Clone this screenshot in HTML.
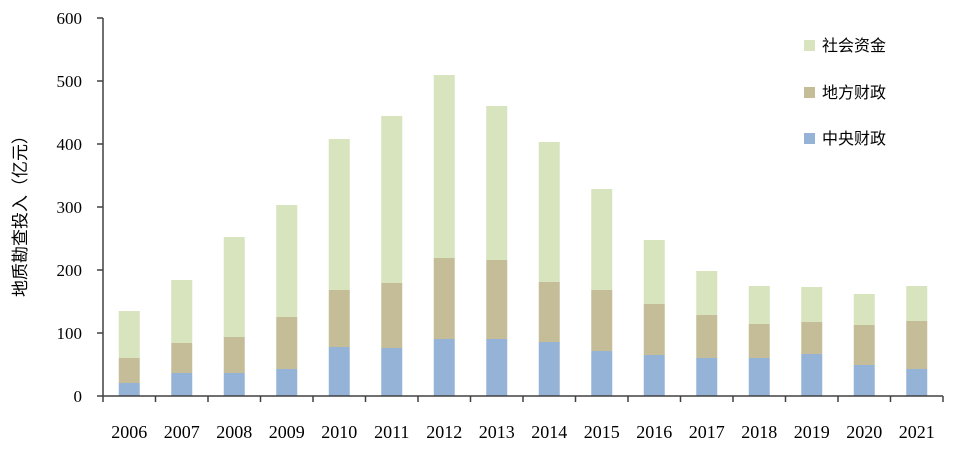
<!DOCTYPE html><html><head><meta charset="utf-8"><style>body{margin:0;background:#fff}</style></head><body>
<svg width="955" height="455" xmlns="http://www.w3.org/2000/svg" font-family="'Liberation Serif','Noto Serif CJK SC',serif">
<rect width="955" height="455" fill="#fff"/>
<g fill="#d7e4bd">
<rect x="118.75" y="311" width="21" height="47"/>
<rect x="171.25" y="280" width="21" height="63"/>
<rect x="223.75" y="237" width="21" height="100"/>
<rect x="276.25" y="205" width="21" height="112"/>
<rect x="328.75" y="139" width="21" height="151"/>
<rect x="381.25" y="116" width="21" height="167"/>
<rect x="433.75" y="75" width="21" height="183"/>
<rect x="486.25" y="106" width="21" height="154"/>
<rect x="538.75" y="142" width="21" height="140"/>
<rect x="591.25" y="189" width="21" height="101"/>
<rect x="643.75" y="240" width="21" height="64"/>
<rect x="696.25" y="271" width="21" height="44"/>
<rect x="748.75" y="286" width="21" height="38"/>
<rect x="801.25" y="287" width="21" height="35"/>
<rect x="853.75" y="294" width="21" height="31"/>
<rect x="906.25" y="286" width="21" height="35"/>
</g>
<g fill="#c4bd97">
<rect x="118.75" y="358" width="21" height="25"/>
<rect x="171.25" y="343" width="21" height="30"/>
<rect x="223.75" y="337" width="21" height="36"/>
<rect x="276.25" y="317" width="21" height="52"/>
<rect x="328.75" y="290" width="21" height="57"/>
<rect x="381.25" y="283" width="21" height="65"/>
<rect x="433.75" y="258" width="21" height="81"/>
<rect x="486.25" y="260" width="21" height="79"/>
<rect x="538.75" y="282" width="21" height="60"/>
<rect x="591.25" y="290" width="21" height="61"/>
<rect x="643.75" y="304" width="21" height="51"/>
<rect x="696.25" y="315" width="21" height="43"/>
<rect x="748.75" y="324" width="21" height="34"/>
<rect x="801.25" y="322" width="21" height="32"/>
<rect x="853.75" y="325" width="21" height="40"/>
<rect x="906.25" y="321" width="21" height="48"/>
</g>
<g fill="#95b3d7">
<rect x="118.75" y="383" width="21" height="13"/>
<rect x="171.25" y="373" width="21" height="23"/>
<rect x="223.75" y="373" width="21" height="23"/>
<rect x="276.25" y="369" width="21" height="27"/>
<rect x="328.75" y="347" width="21" height="49"/>
<rect x="381.25" y="348" width="21" height="48"/>
<rect x="433.75" y="339" width="21" height="57"/>
<rect x="486.25" y="339" width="21" height="57"/>
<rect x="538.75" y="342" width="21" height="54"/>
<rect x="591.25" y="351" width="21" height="45"/>
<rect x="643.75" y="355" width="21" height="41"/>
<rect x="696.25" y="358" width="21" height="38"/>
<rect x="748.75" y="358" width="21" height="38"/>
<rect x="801.25" y="354" width="21" height="42"/>
<rect x="853.75" y="365" width="21" height="31"/>
<rect x="906.25" y="369" width="21" height="27"/>
</g>
<g stroke="#404040" stroke-width="1.5">
<line x1="103" y1="18" x2="103" y2="396"/>
<line x1="103" y1="396" x2="943" y2="396"/>
<line x1="97" y1="18" x2="103" y2="18"/><line x1="97" y1="81" x2="103" y2="81"/><line x1="97" y1="144" x2="103" y2="144"/><line x1="97" y1="207" x2="103" y2="207"/><line x1="97" y1="270" x2="103" y2="270"/><line x1="97" y1="333" x2="103" y2="333"/><line x1="97" y1="396" x2="103" y2="396"/>
<line x1="103" y1="396" x2="103" y2="402"/><line x1="155.5" y1="396" x2="155.5" y2="402"/><line x1="208" y1="396" x2="208" y2="402"/><line x1="260.5" y1="396" x2="260.5" y2="402"/><line x1="313" y1="396" x2="313" y2="402"/><line x1="365.5" y1="396" x2="365.5" y2="402"/><line x1="418" y1="396" x2="418" y2="402"/><line x1="470.5" y1="396" x2="470.5" y2="402"/><line x1="523" y1="396" x2="523" y2="402"/><line x1="575.5" y1="396" x2="575.5" y2="402"/><line x1="628" y1="396" x2="628" y2="402"/><line x1="680.5" y1="396" x2="680.5" y2="402"/><line x1="733" y1="396" x2="733" y2="402"/><line x1="785.5" y1="396" x2="785.5" y2="402"/><line x1="838" y1="396" x2="838" y2="402"/><line x1="890.5" y1="396" x2="890.5" y2="402"/><line x1="943" y1="396" x2="943" y2="402"/>
</g>
<g font-size="17" text-anchor="end" fill="#000">
<text x="82" y="24">600</text><text x="82" y="87">500</text><text x="82" y="150">400</text><text x="82" y="213">300</text><text x="82" y="276">200</text><text x="82" y="339">100</text><text x="82" y="402">0</text>
</g>
<g font-size="18" text-anchor="middle" fill="#000">
<text x="129.25" y="438">2006</text><text x="181.75" y="438">2007</text><text x="234.25" y="438">2008</text><text x="286.75" y="438">2009</text><text x="339.25" y="438">2010</text><text x="391.75" y="438">2011</text><text x="444.25" y="438">2012</text><text x="496.75" y="438">2013</text><text x="549.25" y="438">2014</text><text x="601.75" y="438">2015</text><text x="654.25" y="438">2016</text><text x="706.75" y="438">2017</text><text x="759.25" y="438">2018</text><text x="811.75" y="438">2019</text><text x="864.25" y="438">2020</text><text x="916.75" y="438">2021</text>
</g>
<text transform="translate(26,212) rotate(-90)" font-size="17" text-anchor="middle" font-family="'Liberation Sans','Noto Sans CJK SC',sans-serif">地质勘查投入（亿元）</text>
<g font-family="'Liberation Sans','Noto Sans CJK SC',sans-serif" font-size="16">
<rect x="804" y="40" width="11" height="11" fill="#d7e4bd"/><text x="822" y="51">社会资金</text>
<rect x="804" y="87" width="11" height="11" fill="#c4bd97"/><text x="822" y="98">地方财政</text>
<rect x="804" y="133" width="11" height="11" fill="#95b3d7"/><text x="822" y="144">中央财政</text>
</g>
</svg></body></html>
